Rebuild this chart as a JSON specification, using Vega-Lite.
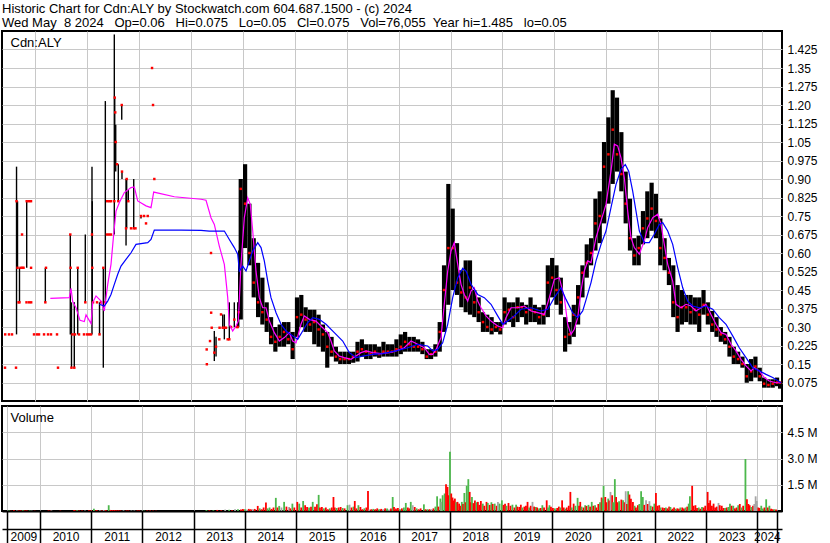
{
"$schema":"https://vega.github.io/schema/vega-lite/v6.json",
"padding":{"left":1,"top":3,"right":0,"bottom":0},
"background":"white",
"spacing":3,
"resolve":{"scale":{"color":"independent"}},
"title":{"text":["Historic Chart for Cdn:ALY by Stockwatch.com 604.687.1500 - (c) 2024","\u00a0Wed May\u00a0\u00a08 2024\u00a0\u00a0\u00a0Op=0.06\u00a0\u00a0\u00a0Hi=0.075\u00a0\u00a0\u00a0Lo=0.05\u00a0\u00a0\u00a0Cl=0.075\u00a0\u00a0\u00a0Vol=76,055\u00a0\u00a0Year hi=1.485\u00a0\u00a0\u00a0lo=0.05"],"anchor":"start","font":"Liberation Sans","fontSize":13,"fontWeight":"normal","color":"black","lineHeight":14,"offset":0,"dx":1},
"datasets":{
"early":[
{"t":2009.416,"lo":0.135,"hi":0.135,"cl":0.135},{"t":2009.42,"lo":0.27,"hi":0.27,"cl":0.27},{"t":2009.493,"lo":0.27,"hi":0.27,"cl":0.27},{"t":2009.551,"lo":0.27,"hi":0.27,"cl":0.27},{"t":2009.628,"lo":0.135,"hi":0.135,"cl":0.135},
{"t":2009.638,"lo":0.27,"hi":0.95,"cl":0.81},{"t":2009.657,"lo":0.54,"hi":0.81,"cl":0.54},{"t":2009.676,"lo":0.4,"hi":0.4,"cl":0.4},{"t":2009.695,"lo":0.4,"hi":0.54,"cl":0.4},{"t":2009.715,"lo":0.54,"hi":0.54,"cl":0.54},
{"t":2009.744,"lo":0.675,"hi":0.675,"cl":0.675},{"t":2009.75,"lo":0.54,"hi":0.54,"cl":0.54},{"t":2009.773,"lo":0.54,"hi":0.54,"cl":0.54},{"t":2009.834,"lo":0.54,"hi":0.81,"cl":0.81},{"t":2009.83,"lo":0.4,"hi":0.4,"cl":0.4},
{"t":2009.879,"lo":0.81,"hi":0.81,"cl":0.81},{"t":2009.88,"lo":0.4,"hi":0.4,"cl":0.4},{"t":2009.917,"lo":0.81,"hi":0.81,"cl":0.81},{"t":2009.918,"lo":0.54,"hi":0.54,"cl":0.54},{"t":2009.92,"lo":0.4,"hi":0.4,"cl":0.4},
{"t":2009.975,"lo":0.27,"hi":0.27,"cl":0.27},{"t":2010.033,"lo":0.27,"hi":0.27,"cl":0.27},{"t":2010.071,"lo":0.27,"hi":0.27,"cl":0.27},{"t":2010.168,"lo":0.27,"hi":0.27,"cl":0.27},{"t":2010.193,"lo":0.4,"hi":0.54,"cl":0.4},
{"t":2010.206,"lo":0.54,"hi":0.54,"cl":0.54},{"t":2010.245,"lo":0.27,"hi":0.27,"cl":0.27},{"t":2010.302,"lo":0.27,"hi":0.27,"cl":0.27},{"t":2010.418,"lo":0.27,"hi":0.27,"cl":0.27},{"t":2010.437,"lo":0.135,"hi":0.135,"cl":0.135},
{"t":2010.674,"lo":0.27,"hi":0.675,"cl":0.675},{"t":2010.68,"lo":0.54,"hi":0.54,"cl":0.54},{"t":2010.697,"lo":0.135,"hi":0.4,"cl":0.135},{"t":2010.717,"lo":0.27,"hi":0.27,"cl":0.27},{"t":2010.751,"lo":0.135,"hi":0.4,"cl":0.135},
{"t":2010.765,"lo":0.27,"hi":0.27,"cl":0.27},{"t":2010.817,"lo":0.27,"hi":0.54,"cl":0.54},{"t":2010.842,"lo":0.27,"hi":0.27,"cl":0.27},{"t":2010.938,"lo":0.27,"hi":0.27,"cl":0.27},{"t":2010.963,"lo":0.4,"hi":0.675,"cl":0.4},
{"t":2010.996,"lo":0.27,"hi":0.27,"cl":0.27},{"t":2011.035,"lo":0.27,"hi":0.27,"cl":0.27},{"t":2011.073,"lo":0.27,"hi":0.27,"cl":0.27},{"t":2011.092,"lo":0.27,"hi":0.95,"cl":0.675},{"t":2011.098,"lo":0.4,"hi":0.81,"cl":0.54},
{"t":2011.112,"lo":0.4,"hi":0.4,"cl":0.4},{"t":2011.189,"lo":0.4,"hi":0.4,"cl":0.4},{"t":2011.237,"lo":0.27,"hi":0.4,"cl":0.27},{"t":2011.266,"lo":0.4,"hi":0.4,"cl":0.4},{"t":2011.31,"lo":0.135,"hi":0.54,"cl":0.54},
{"t":2011.349,"lo":0.4,"hi":1.216,"cl":0.4},{"t":2011.381,"lo":0.675,"hi":0.675,"cl":0.675},{"t":2011.385,"lo":0.81,"hi":0.81,"cl":0.81},{"t":2011.42,"lo":0.675,"hi":0.675,"cl":0.675},{"t":2011.425,"lo":0.81,"hi":0.81,"cl":0.81},
{"t":2011.458,"lo":0.675,"hi":0.675,"cl":0.675},{"t":2011.46,"lo":0.81,"hi":0.81,"cl":0.81},{"t":2011.522,"lo":0.675,"hi":1.486,"cl":0.81},{"t":2011.53,"lo":1.03,"hi":1.23,"cl":1.23},{"t":2011.54,"lo":1.17,"hi":1.17,"cl":1.17},
{"t":2011.549,"lo":0.93,"hi":1.12,"cl":1.05},{"t":2011.574,"lo":0.96,"hi":0.96,"cl":0.96},{"t":2011.599,"lo":0.81,"hi":0.96,"cl":0.81},{"t":2011.665,"lo":1.14,"hi":1.2,"cl":1.2},{"t":2011.67,"lo":0.9,"hi":0.93,"cl":0.93},
{"t":2011.748,"lo":0.63,"hi":0.9,"cl":0.7},{"t":2011.76,"lo":0.7,"hi":0.9,"cl":0.9},{"t":2011.792,"lo":0.81,"hi":0.855,"cl":0.81},{"t":2011.844,"lo":0.7,"hi":0.7,"cl":0.7},{"t":2011.896,"lo":0.7,"hi":0.9,"cl":0.7},
{"t":2011.93,"lo":0.7,"hi":0.7,"cl":0.7},{"t":2012.036,"lo":0.74,"hi":0.75,"cl":0.75},{"t":2012.095,"lo":0.75,"hi":0.75,"cl":0.75},{"t":2012.133,"lo":0.72,"hi":0.72,"cl":0.72},{"t":2012.166,"lo":0.75,"hi":0.75,"cl":0.75},
{"t":2012.249,"lo":1.35,"hi":1.35,"cl":1.35},{"t":2012.268,"lo":1.2,"hi":1.2,"cl":1.2},{"t":2012.293,"lo":0.9,"hi":0.9,"cl":0.9},
{"t":2013.302,"lo":0.209,"hi":0.209,"cl":0.209},{"t":2013.305,"lo":0.149,"hi":0.149,"cl":0.149},{"t":2013.366,"lo":0.243,"hi":0.243,"cl":0.243},{"t":2013.385,"lo":0.6,"hi":0.6,"cl":0.6},{"t":2013.388,"lo":0.358,"hi":0.358,"cl":0.358},
{"t":2013.399,"lo":0.297,"hi":0.297,"cl":0.297},{"t":2013.449,"lo":0.162,"hi":0.284,"cl":0.196},{"t":2013.482,"lo":0.18,"hi":0.26,"cl":0.22},{"t":2013.545,"lo":0.25,"hi":0.25,"cl":0.25},{"t":2013.55,"lo":0.297,"hi":0.297,"cl":0.297},
{"t":2013.578,"lo":0.351,"hi":0.351,"cl":0.351},{"t":2013.611,"lo":0.297,"hi":0.351,"cl":0.297},{"t":2013.642,"lo":0.25,"hi":0.351,"cl":0.297},{"t":2013.674,"lo":0.297,"hi":0.297,"cl":0.297},{"t":2013.707,"lo":0.25,"hi":0.25,"cl":0.25},
{"t":2013.738,"lo":0.25,"hi":0.4,"cl":0.25},{"t":2013.771,"lo":0.3,"hi":0.3,"cl":0.3},{"t":2013.834,"lo":0.3,"hi":0.4,"cl":0.33},{"t":2013.881,"lo":0.3,"hi":0.3,"cl":0.3},{"t":2013.9,"lo":0.3,"hi":0.4,"cl":0.3},
{"t":2013.919,"lo":0.3,"hi":0.61,"cl":0.36}
],
"monthly":[
{"t":2013.958,"lo":0.33,"hi":0.9,"cl":0.86},
{"t":2014.042,"lo":0.62,"hi":0.96,"cl":0.8},{"t":2014.125,"lo":0.55,"hi":0.8,"cl":0.6},{"t":2014.208,"lo":0.42,"hi":0.66,"cl":0.48},{"t":2014.292,"lo":0.34,"hi":0.56,"cl":0.4},{"t":2014.375,"lo":0.31,"hi":0.5,"cl":0.36},{"t":2014.458,"lo":0.28,"hi":0.4,"cl":0.33},{"t":2014.542,"lo":0.23,"hi":0.34,"cl":0.26},{"t":2014.625,"lo":0.2,"hi":0.3,"cl":0.24},{"t":2014.708,"lo":0.22,"hi":0.31,"cl":0.26},{"t":2014.792,"lo":0.22,"hi":0.32,"cl":0.28},{"t":2014.875,"lo":0.23,"hi":0.32,"cl":0.25},{"t":2014.958,"lo":0.17,"hi":0.28,"cl":0.21},
{"t":2015.042,"lo":0.26,"hi":0.42,"cl":0.34},{"t":2015.125,"lo":0.3,"hi":0.43,"cl":0.35},{"t":2015.208,"lo":0.28,"hi":0.38,"cl":0.33},{"t":2015.292,"lo":0.28,"hi":0.37,"cl":0.31},{"t":2015.375,"lo":0.23,"hi":0.37,"cl":0.32},{"t":2015.458,"lo":0.22,"hi":0.35,"cl":0.29},{"t":2015.542,"lo":0.2,"hi":0.31,"cl":0.27},{"t":2015.625,"lo":0.135,"hi":0.28,"cl":0.22},{"t":2015.708,"lo":0.18,"hi":0.26,"cl":0.2},{"t":2015.792,"lo":0.16,"hi":0.22,"cl":0.18},{"t":2015.875,"lo":0.15,"hi":0.2,"cl":0.17},{"t":2015.958,"lo":0.15,"hi":0.2,"cl":0.17},
{"t":2016.042,"lo":0.15,"hi":0.2,"cl":0.17},{"t":2016.125,"lo":0.155,"hi":0.2,"cl":0.18},{"t":2016.208,"lo":0.16,"hi":0.24,"cl":0.2},{"t":2016.292,"lo":0.18,"hi":0.25,"cl":0.21},{"t":2016.375,"lo":0.17,"hi":0.23,"cl":0.2},{"t":2016.458,"lo":0.17,"hi":0.23,"cl":0.19},{"t":2016.542,"lo":0.18,"hi":0.23,"cl":0.2},{"t":2016.625,"lo":0.175,"hi":0.22,"cl":0.19},{"t":2016.708,"lo":0.18,"hi":0.24,"cl":0.2},{"t":2016.792,"lo":0.18,"hi":0.23,"cl":0.2},{"t":2016.875,"lo":0.18,"hi":0.23,"cl":0.2},{"t":2016.958,"lo":0.18,"hi":0.25,"cl":0.21},
{"t":2017.042,"lo":0.19,"hi":0.27,"cl":0.22},{"t":2017.125,"lo":0.2,"hi":0.28,"cl":0.24},{"t":2017.208,"lo":0.2,"hi":0.26,"cl":0.23},{"t":2017.292,"lo":0.2,"hi":0.26,"cl":0.22},{"t":2017.375,"lo":0.2,"hi":0.25,"cl":0.22},{"t":2017.458,"lo":0.19,"hi":0.24,"cl":0.21},{"t":2017.542,"lo":0.17,"hi":0.21,"cl":0.18},{"t":2017.625,"lo":0.17,"hi":0.21,"cl":0.19},{"t":2017.708,"lo":0.18,"hi":0.23,"cl":0.2},{"t":2017.792,"lo":0.2,"hi":0.32,"cl":0.28},{"t":2017.875,"lo":0.28,"hi":0.55,"cl":0.45},{"t":2017.958,"lo":0.39,"hi":0.88,"cl":0.62},
{"t":2018.042,"lo":0.45,"hi":0.78,"cl":0.62},{"t":2018.125,"lo":0.43,"hi":0.64,"cl":0.48},{"t":2018.208,"lo":0.38,"hi":0.53,"cl":0.44},{"t":2018.292,"lo":0.36,"hi":0.57,"cl":0.42},{"t":2018.375,"lo":0.35,"hi":0.57,"cl":0.46},{"t":2018.458,"lo":0.34,"hi":0.45,"cl":0.4},{"t":2018.542,"lo":0.32,"hi":0.42,"cl":0.36},{"t":2018.625,"lo":0.28,"hi":0.36,"cl":0.32},{"t":2018.708,"lo":0.28,"hi":0.35,"cl":0.3},{"t":2018.792,"lo":0.27,"hi":0.34,"cl":0.29},{"t":2018.875,"lo":0.28,"hi":0.32,"cl":0.3},{"t":2018.958,"lo":0.27,"hi":0.32,"cl":0.29},
{"t":2019.042,"lo":0.31,"hi":0.42,"cl":0.36},{"t":2019.125,"lo":0.32,"hi":0.4,"cl":0.37},{"t":2019.208,"lo":0.3,"hi":0.4,"cl":0.34},{"t":2019.292,"lo":0.32,"hi":0.42,"cl":0.38},{"t":2019.375,"lo":0.34,"hi":0.4,"cl":0.38},{"t":2019.458,"lo":0.31,"hi":0.39,"cl":0.36},{"t":2019.542,"lo":0.32,"hi":0.42,"cl":0.37},{"t":2019.625,"lo":0.32,"hi":0.39,"cl":0.36},{"t":2019.708,"lo":0.31,"hi":0.38,"cl":0.34},{"t":2019.792,"lo":0.31,"hi":0.39,"cl":0.35},{"t":2019.875,"lo":0.34,"hi":0.55,"cl":0.48},{"t":2019.958,"lo":0.42,"hi":0.58,"cl":0.5},
{"t":2020.042,"lo":0.39,"hi":0.55,"cl":0.45},{"t":2020.125,"lo":0.35,"hi":0.5,"cl":0.4},{"t":2020.208,"lo":0.2,"hi":0.34,"cl":0.26},{"t":2020.292,"lo":0.23,"hi":0.32,"cl":0.27},{"t":2020.375,"lo":0.26,"hi":0.39,"cl":0.35},{"t":2020.458,"lo":0.31,"hi":0.47,"cl":0.42},{"t":2020.542,"lo":0.42,"hi":0.55,"cl":0.52},{"t":2020.625,"lo":0.5,"hi":0.635,"cl":0.56},{"t":2020.708,"lo":0.55,"hi":0.66,"cl":0.6},{"t":2020.792,"lo":0.61,"hi":0.82,"cl":0.72},{"t":2020.875,"lo":0.64,"hi":0.85,"cl":0.75},{"t":2020.958,"lo":0.72,"hi":1.05,"cl":0.95},
{"t":2021.042,"lo":0.8,"hi":1.15,"cl":1.0},{"t":2021.125,"lo":0.88,"hi":1.26,"cl":1.1},{"t":2021.208,"lo":0.93,"hi":1.23,"cl":1.0},{"t":2021.292,"lo":0.85,"hi":1.09,"cl":0.92},{"t":2021.375,"lo":0.72,"hi":0.93,"cl":0.8},{"t":2021.458,"lo":0.61,"hi":0.82,"cl":0.66},{"t":2021.542,"lo":0.55,"hi":0.66,"cl":0.59},{"t":2021.625,"lo":0.55,"hi":0.67,"cl":0.62},{"t":2021.708,"lo":0.635,"hi":0.77,"cl":0.7},{"t":2021.792,"lo":0.66,"hi":0.85,"cl":0.74},{"t":2021.875,"lo":0.69,"hi":0.885,"cl":0.78},{"t":2021.958,"lo":0.66,"hi":0.84,"cl":0.73},
{"t":2022.042,"lo":0.55,"hi":0.74,"cl":0.62},{"t":2022.125,"lo":0.53,"hi":0.66,"cl":0.58},{"t":2022.208,"lo":0.47,"hi":0.58,"cl":0.52},{"t":2022.292,"lo":0.34,"hi":0.55,"cl":0.4},{"t":2022.375,"lo":0.28,"hi":0.47,"cl":0.34},{"t":2022.458,"lo":0.31,"hi":0.45,"cl":0.38},{"t":2022.542,"lo":0.32,"hi":0.43,"cl":0.38},{"t":2022.625,"lo":0.31,"hi":0.43,"cl":0.36},{"t":2022.708,"lo":0.31,"hi":0.42,"cl":0.37},{"t":2022.792,"lo":0.28,"hi":0.42,"cl":0.35},{"t":2022.875,"lo":0.35,"hi":0.45,"cl":0.39},{"t":2022.958,"lo":0.31,"hi":0.4,"cl":0.35},
{"t":2023.042,"lo":0.28,"hi":0.365,"cl":0.31},{"t":2023.125,"lo":0.26,"hi":0.34,"cl":0.29},{"t":2023.208,"lo":0.24,"hi":0.3,"cl":0.27},{"t":2023.292,"lo":0.23,"hi":0.28,"cl":0.25},{"t":2023.375,"lo":0.18,"hi":0.26,"cl":0.22},{"t":2023.458,"lo":0.15,"hi":0.22,"cl":0.18},{"t":2023.542,"lo":0.15,"hi":0.2,"cl":0.17},{"t":2023.625,"lo":0.135,"hi":0.18,"cl":0.15},{"t":2023.708,"lo":0.074,"hi":0.15,"cl":0.1},{"t":2023.792,"lo":0.08,"hi":0.17,"cl":0.12},{"t":2023.875,"lo":0.095,"hi":0.18,"cl":0.14},{"t":2023.958,"lo":0.08,"hi":0.135,"cl":0.1},
{"t":2024.042,"lo":0.054,"hi":0.095,"cl":0.07},{"t":2024.125,"lo":0.054,"hi":0.088,"cl":0.065},{"t":2024.208,"lo":0.054,"hi":0.088,"cl":0.07},{"t":2024.292,"lo":0.06,"hi":0.095,"cl":0.075},{"t":2024.35,"lo":0.05,"hi":0.075,"cl":0.075}
],
"ma":[
{"t":2010.289,"v":0.416,"s":"short"},{"t":2010.655,"v":0.419,"s":"short"},{"t":2010.688,"v":0.457,"s":"short"},{"t":2010.72,"v":0.403,"s":"short"},{"t":2010.784,"v":0.378,"s":"short"},{"t":2010.861,"v":0.327,"s":"short"},{"t":2010.944,"v":0.322,"s":"short"},{"t":2010.977,"v":0.349,"s":"short"},{"t":2011.073,"v":0.314,"s":"short"},{"t":2011.106,"v":0.399,"s":"short"},{"t":2011.169,"v":0.426,"s":"short"},{"t":2011.266,"v":0.405,"s":"short"},{"t":2011.329,"v":0.365,"s":"short"},{"t":2011.395,"v":0.473,"s":"short"},{"t":2011.458,"v":0.554,"s":"short"},{"t":2011.51,"v":0.676,"s":"short"},{"t":2011.555,"v":0.77,"s":"short"},{"t":2011.618,"v":0.804,"s":"short"},{"t":2011.715,"v":0.845,"s":"short"},{"t":2011.844,"v":0.865,"s":"short"},{"t":2011.907,"v":0.868,"s":"short"},{"t":2011.973,"v":0.811,"s":"short"},{"t":2012.133,"v":0.791,"s":"short"},{"t":2012.229,"v":0.784,"s":"short"},{"t":2012.281,"v":0.847,"s":"short"},{"t":2012.678,"v":0.828,"s":"short"},{"t":2013.193,"v":0.818,"s":"short"},{"t":2013.289,"v":0.814,"s":"short"},{"t":2013.385,"v":0.743,"s":"short"},{"t":2013.449,"v":0.716,"s":"short"},{"t":2013.545,"v":0.628,"s":"short"},{"t":2013.642,"v":0.554,"s":"short"},{"t":2013.707,"v":0.419,"s":"short"},{"t":2013.738,"v":0.311,"s":"short"},{"t":2013.803,"v":0.284,"s":"short"},{"t":2013.867,"v":0.304,"s":"short"},{"t":2013.911,"v":0.324,"s":"short"},{"t":2013.963,"v":0.554,"s":"short"},{"t":2014.027,"v":0.743,"s":"short"},{"t":2014.092,"v":0.824,"s":"short"},{"t":2014.142,"v":0.797,"s":"short"},{"t":2014.189,"v":0.689,"s":"short"},{"t":2014.252,"v":0.527,"s":"short"},{"t":2014.316,"v":0.419,"s":"short"},{"t":2014.381,"v":0.378,"s":"short"},{"t":2014.445,"v":0.378,"s":"short"},{"t":2014.509,"v":0.324,"s":"short"},{"t":2014.605,"v":0.277,"s":"short"},{"t":2014.701,"v":0.243,"s":"short"},{"t":2014.798,"v":0.257,"s":"short"},{"t":2014.894,"v":0.277,"s":"short"},{"t":2014.959,"v":0.243,"s":"short"},{"t":2015.023,"v":0.236,"s":"short"},{"t":2015.119,"v":0.311,"s":"short"},{"t":2015.183,"v":0.345,"s":"short"},{"t":2015.279,"v":0.331,"s":"short"},{"t":2015.408,"v":0.324,"s":"short"},{"t":2015.537,"v":0.297,"s":"short"},{"t":2015.634,"v":0.277,"s":"short"},{"t":2015.697,"v":0.243,"s":"short"},{"t":2015.761,"v":0.203,"s":"short"},{"t":2015.857,"v":0.182,"s":"short"},{"t":2015.954,"v":0.176,"s":"short"},{"t":2016.083,"v":0.169,"s":"short"},{"t":2016.179,"v":0.182,"s":"short"},{"t":2016.275,"v":0.196,"s":"short"},{"t":2016.372,"v":0.203,"s":"short"},{"t":2016.501,"v":0.196,"s":"short"},{"t":2016.661,"v":0.192,"s":"short"},{"t":2016.821,"v":0.196,"s":"short"},{"t":2016.95,"v":0.203,"s":"short"},{"t":2017.11,"v":0.216,"s":"short"},{"t":2017.239,"v":0.243,"s":"short"},{"t":2017.368,"v":0.23,"s":"short"},{"t":2017.495,"v":0.216,"s":"short"},{"t":2017.591,"v":0.189,"s":"short"},{"t":2017.657,"v":0.189,"s":"short"},{"t":2017.721,"v":0.209,"s":"short"},{"t":2017.817,"v":0.257,"s":"short"},{"t":2017.88,"v":0.392,"s":"short"},{"t":2017.946,"v":0.527,"s":"short"},{"t":2018.01,"v":0.608,"s":"short"},{"t":2018.073,"v":0.642,"s":"short"},{"t":2018.139,"v":0.554,"s":"short"},{"t":2018.202,"v":0.473,"s":"short"},{"t":2018.266,"v":0.432,"s":"short"},{"t":2018.331,"v":0.405,"s":"short"},{"t":2018.395,"v":0.446,"s":"short"},{"t":2018.458,"v":0.459,"s":"short"},{"t":2018.524,"v":0.405,"s":"short"},{"t":2018.588,"v":0.378,"s":"short"},{"t":2018.684,"v":0.345,"s":"short"},{"t":2018.78,"v":0.324,"s":"short"},{"t":2018.909,"v":0.304,"s":"short"},{"t":2019.006,"v":0.297,"s":"short"},{"t":2019.069,"v":0.338,"s":"short"},{"t":2019.166,"v":0.378,"s":"short"},{"t":2019.295,"v":0.378,"s":"short"},{"t":2019.422,"v":0.385,"s":"short"},{"t":2019.551,"v":0.365,"s":"short"},{"t":2019.68,"v":0.358,"s":"short"},{"t":2019.807,"v":0.351,"s":"short"},{"t":2019.904,"v":0.419,"s":"short"},{"t":2020.0,"v":0.493,"s":"short"},{"t":2020.096,"v":0.5,"s":"short"},{"t":2020.193,"v":0.419,"s":"short"},{"t":2020.258,"v":0.311,"s":"short"},{"t":2020.322,"v":0.27,"s":"short"},{"t":2020.385,"v":0.291,"s":"short"},{"t":2020.451,"v":0.338,"s":"short"},{"t":2020.514,"v":0.446,"s":"short"},{"t":2020.578,"v":0.527,"s":"short"},{"t":2020.643,"v":0.568,"s":"short"},{"t":2020.707,"v":0.561,"s":"short"},{"t":2020.803,"v":0.662,"s":"short"},{"t":2020.9,"v":0.73,"s":"short"},{"t":2020.996,"v":0.797,"s":"short"},{"t":2021.092,"v":0.932,"s":"short"},{"t":2021.156,"v":1.041,"s":"short"},{"t":2021.221,"v":1.034,"s":"short"},{"t":2021.285,"v":0.986,"s":"short"},{"t":2021.349,"v":0.905,"s":"short"},{"t":2021.414,"v":0.77,"s":"short"},{"t":2021.478,"v":0.662,"s":"short"},{"t":2021.541,"v":0.622,"s":"short"},{"t":2021.638,"v":0.595,"s":"short"},{"t":2021.734,"v":0.649,"s":"short"},{"t":2021.799,"v":0.703,"s":"short"},{"t":2021.896,"v":0.743,"s":"short"},{"t":2021.992,"v":0.757,"s":"short"},{"t":2022.056,"v":0.716,"s":"short"},{"t":2022.119,"v":0.635,"s":"short"},{"t":2022.185,"v":0.554,"s":"short"},{"t":2022.281,"v":0.486,"s":"short"},{"t":2022.345,"v":0.392,"s":"short"},{"t":2022.441,"v":0.378,"s":"short"},{"t":2022.537,"v":0.392,"s":"short"},{"t":2022.634,"v":0.385,"s":"short"},{"t":2022.73,"v":0.365,"s":"short"},{"t":2022.826,"v":0.378,"s":"short"},{"t":2022.923,"v":0.392,"s":"short"},{"t":2023.019,"v":0.351,"s":"short"},{"t":2023.115,"v":0.311,"s":"short"},{"t":2023.212,"v":0.277,"s":"short"},{"t":2023.308,"v":0.27,"s":"short"},{"t":2023.405,"v":0.23,"s":"short"},{"t":2023.501,"v":0.203,"s":"short"},{"t":2023.597,"v":0.169,"s":"short"},{"t":2023.694,"v":0.142,"s":"short"},{"t":2023.79,"v":0.122,"s":"short"},{"t":2023.853,"v":0.135,"s":"short"},{"t":2023.95,"v":0.122,"s":"short"},{"t":2024.046,"v":0.095,"s":"short"},{"t":2024.142,"v":0.081,"s":"short"},{"t":2024.272,"v":0.074,"s":"short"},{"t":2024.368,"v":0.074,"s":"short"},
{"t":2011.233,"v":0.392,"s":"long"},{"t":2011.329,"v":0.385,"s":"long"},{"t":2011.395,"v":0.405,"s":"long"},{"t":2011.458,"v":0.432,"s":"long"},{"t":2011.522,"v":0.473,"s":"long"},{"t":2011.588,"v":0.514,"s":"long"},{"t":2011.651,"v":0.547,"s":"long"},{"t":2011.747,"v":0.574,"s":"long"},{"t":2011.844,"v":0.601,"s":"long"},{"t":2011.94,"v":0.635,"s":"long"},{"t":2012.166,"v":0.642,"s":"long"},{"t":2012.229,"v":0.655,"s":"long"},{"t":2012.293,"v":0.693,"s":"long"},{"t":2012.807,"v":0.693,"s":"long"},{"t":2013.193,"v":0.692,"s":"long"},{"t":2013.352,"v":0.689,"s":"long"},{"t":2013.642,"v":0.689,"s":"long"},{"t":2013.738,"v":0.655,"s":"long"},{"t":2013.834,"v":0.622,"s":"long"},{"t":2013.9,"v":0.595,"s":"long"},{"t":2013.931,"v":0.527,"s":"long"},{"t":2013.996,"v":0.547,"s":"long"},{"t":2014.06,"v":0.527,"s":"long"},{"t":2014.123,"v":0.568,"s":"long"},{"t":2014.189,"v":0.608,"s":"long"},{"t":2014.285,"v":0.642,"s":"long"},{"t":2014.349,"v":0.622,"s":"long"},{"t":2014.412,"v":0.568,"s":"long"},{"t":2014.478,"v":0.486,"s":"long"},{"t":2014.541,"v":0.419,"s":"long"},{"t":2014.638,"v":0.358,"s":"long"},{"t":2014.734,"v":0.311,"s":"long"},{"t":2014.83,"v":0.284,"s":"long"},{"t":2014.959,"v":0.264,"s":"long"},{"t":2015.056,"v":0.25,"s":"long"},{"t":2015.152,"v":0.284,"s":"long"},{"t":2015.248,"v":0.318,"s":"long"},{"t":2015.345,"v":0.338,"s":"long"},{"t":2015.472,"v":0.331,"s":"long"},{"t":2015.601,"v":0.311,"s":"long"},{"t":2015.761,"v":0.277,"s":"long"},{"t":2015.923,"v":0.243,"s":"long"},{"t":2016.05,"v":0.196,"s":"long"},{"t":2016.179,"v":0.176,"s":"long"},{"t":2016.308,"v":0.182,"s":"long"},{"t":2016.501,"v":0.189,"s":"long"},{"t":2016.694,"v":0.192,"s":"long"},{"t":2016.95,"v":0.203,"s":"long"},{"t":2017.175,"v":0.216,"s":"long"},{"t":2017.368,"v":0.23,"s":"long"},{"t":2017.561,"v":0.223,"s":"long"},{"t":2017.657,"v":0.203,"s":"long"},{"t":2017.753,"v":0.209,"s":"long"},{"t":2017.849,"v":0.236,"s":"long"},{"t":2017.946,"v":0.311,"s":"long"},{"t":2018.042,"v":0.419,"s":"long"},{"t":2018.139,"v":0.5,"s":"long"},{"t":2018.235,"v":0.538,"s":"long"},{"t":2018.299,"v":0.527,"s":"long"},{"t":2018.395,"v":0.473,"s":"long"},{"t":2018.524,"v":0.432,"s":"long"},{"t":2018.651,"v":0.419,"s":"long"},{"t":2018.78,"v":0.392,"s":"long"},{"t":2018.909,"v":0.345,"s":"long"},{"t":2019.006,"v":0.311,"s":"long"},{"t":2019.102,"v":0.324,"s":"long"},{"t":2019.229,"v":0.345,"s":"long"},{"t":2019.358,"v":0.372,"s":"long"},{"t":2019.551,"v":0.378,"s":"long"},{"t":2019.744,"v":0.365,"s":"long"},{"t":2019.873,"v":0.372,"s":"long"},{"t":2020.0,"v":0.419,"s":"long"},{"t":2020.129,"v":0.459,"s":"long"},{"t":2020.225,"v":0.412,"s":"long"},{"t":2020.354,"v":0.358,"s":"long"},{"t":2020.451,"v":0.338,"s":"long"},{"t":2020.547,"v":0.365,"s":"long"},{"t":2020.611,"v":0.41,"s":"long"},{"t":2020.707,"v":0.48,"s":"long"},{"t":2020.803,"v":0.568,"s":"long"},{"t":2020.9,"v":0.635,"s":"long"},{"t":2020.996,"v":0.689,"s":"long"},{"t":2021.092,"v":0.784,"s":"long"},{"t":2021.189,"v":0.878,"s":"long"},{"t":2021.285,"v":0.939,"s":"long"},{"t":2021.368,"v":0.959,"s":"long"},{"t":2021.433,"v":0.932,"s":"long"},{"t":2021.51,"v":0.851,"s":"long"},{"t":2021.574,"v":0.77,"s":"long"},{"t":2021.638,"v":0.689,"s":"long"},{"t":2021.734,"v":0.642,"s":"long"},{"t":2021.83,"v":0.642,"s":"long"},{"t":2021.927,"v":0.676,"s":"long"},{"t":2022.023,"v":0.716,"s":"long"},{"t":2022.088,"v":0.723,"s":"long"},{"t":2022.185,"v":0.689,"s":"long"},{"t":2022.281,"v":0.635,"s":"long"},{"t":2022.377,"v":0.541,"s":"long"},{"t":2022.474,"v":0.459,"s":"long"},{"t":2022.57,"v":0.405,"s":"long"},{"t":2022.667,"v":0.385,"s":"long"},{"t":2022.794,"v":0.378,"s":"long"},{"t":2022.923,"v":0.385,"s":"long"},{"t":2023.052,"v":0.372,"s":"long"},{"t":2023.179,"v":0.338,"s":"long"},{"t":2023.308,"v":0.311,"s":"long"},{"t":2023.437,"v":0.264,"s":"long"},{"t":2023.564,"v":0.216,"s":"long"},{"t":2023.694,"v":0.176,"s":"long"},{"t":2023.822,"v":0.135,"s":"long"},{"t":2023.95,"v":0.122,"s":"long"},{"t":2024.079,"v":0.108,"s":"long"},{"t":2024.208,"v":0.095,"s":"long"},{"t":2024.368,"v":0.074,"s":"long"}
],
"vol":[
{"t":2009.397,"v":0.03,"c":"u"},{"t":2009.435,"v":0.02,"c":"d"},{"t":2009.493,"v":0.04,"c":"d"},{"t":2009.551,"v":0.03,"c":"f"},{"t":2009.589,"v":0.03,"c":"d"},{"t":2009.628,"v":0.03,"c":"d"},{"t":2009.667,"v":0.04,"c":"u"},{"t":2009.705,"v":0.03,"c":"d"},{"t":2009.744,"v":0.03,"c":"d"},{"t":2009.801,"v":0.03,"c":"u"},{"t":2009.84,"v":0.02,"c":"f"},{"t":2009.898,"v":0.02,"c":"d"},{"t":2010.168,"v":0.03,"c":"d"},{"t":2010.206,"v":0.02,"c":"d"},{"t":2010.225,"v":0.03,"c":"f"},{"t":2010.399,"v":0.02,"c":"d"},{"t":2010.668,"v":0.05,"c":"d"},{"t":2010.697,"v":0.03,"c":"d"},{"t":2010.726,"v":0.04,"c":"u"},{"t":2010.765,"v":0.03,"c":"d"},{"t":2010.823,"v":0.03,"c":"d"},{"t":2010.88,"v":0.03,"c":"f"},{"t":2010.958,"v":0.04,"c":"d"},{"t":2011.0,"v":0.03,"c":"d"},{"t":2011.054,"v":0.13,"c":"u"},{"t":2011.093,"v":0.03,"c":"d"},{"t":2011.112,"v":0.04,"c":"d"},{"t":2011.17,"v":0.04,"c":"f"},{"t":2011.208,"v":0.03,"c":"d"},{"t":2011.247,"v":0.05,"c":"f"},{"t":2011.285,"v":0.05,"c":"d"},{"t":2011.343,"v":0.33,"c":"u"},{"t":2011.381,"v":0.06,"c":"d"},{"t":2011.42,"v":0.05,"c":"d"},{"t":2011.459,"v":0.05,"c":"d"},{"t":2011.497,"v":0.04,"c":"d"},{"t":2011.536,"v":0.04,"c":"d"},{"t":2011.574,"v":0.03,"c":"d"},{"t":2011.632,"v":0.04,"c":"f"},{"t":2011.69,"v":0.03,"c":"d"},{"t":2011.728,"v":0.03,"c":"d"},{"t":2011.786,"v":0.03,"c":"f"},{"t":2011.844,"v":0.03,"c":"f"},{"t":2011.902,"v":0.03,"c":"d"},{"t":2011.94,"v":0.03,"c":"d"},{"t":2011.998,"v":0.02,"c":"f"},{"t":2012.036,"v":0.02,"c":"u"},{"t":2012.094,"v":0.03,"c":"d"},{"t":2012.152,"v":0.03,"c":"d"},{"t":2012.21,"v":0.02,"c":"d"},{"t":2012.268,"v":0.02,"c":"d"},
{"t":2013.25,"v":0.05,"c":"u"},{"t":2013.308,"v":0.04,"c":"d"},{"t":2013.385,"v":0.04,"c":"u"},{"t":2013.462,"v":0.06,"c":"d"},{"t":2013.539,"v":0.04,"c":"d"},{"t":2013.616,"v":0.08,"c":"f"},{"t":2013.693,"v":0.07,"c":"u"},{"t":2013.751,"v":0.05,"c":"d"},{"t":2013.809,"v":0.1,"c":"f"},{"t":2013.866,"v":0.1,"c":"u"},{"t":2013.924,"v":0.08,"c":"d"},{"t":2013.963,"v":0.12,"c":"d"},{"t":2014.001,"v":0.1,"c":"u"},{"t":2014.04,"v":0.08,"c":"f"},{"t":2014.078,"v":0.12,"c":"d"},{"t":2014.117,"v":0.1,"c":"d"},{"t":2014.156,"v":0.1,"c":"f"},{"t":2014.194,"v":0.12,"c":"d"},{"t":2014.252,"v":0.29,"c":"d"},{"t":2014.29,"v":0.15,"c":"u"},{"t":2014.329,"v":0.1,"c":"d"},{"t":2014.367,"v":0.2,"c":"d"},{"t":2014.412,"v":0.48,"c":"d"},{"t":2014.445,"v":0.15,"c":"u"},{"t":2014.483,"v":0.2,"c":"u"},{"t":2014.522,"v":0.12,"c":"d"},{"t":2014.56,"v":0.2,"c":"d"},{"t":2014.605,"v":0.75,"c":"u"},{"t":2014.638,"v":0.2,"c":"d"},{"t":2014.671,"v":0.29,"c":"u"},{"t":2014.715,"v":0.2,"c":"f"},{"t":2014.767,"v":0.52,"c":"u"},{"t":2014.812,"v":0.25,"c":"d"},{"t":2014.864,"v":0.23,"c":"f"},{"t":2014.889,"v":0.15,"c":"d"},{"t":2014.928,"v":0.42,"c":"u"},{"t":2014.966,"v":0.2,"c":"d"},{"t":2015.024,"v":0.52,"c":"d"},{"t":2015.062,"v":0.42,"c":"u"},{"t":2015.101,"v":0.2,"c":"d"},
{"t":2015.138,"v":0.57,"c":"u"},{"t":2015.177,"v":0.33,"c":"d"},{"t":2015.215,"v":0.23,"c":"d"},{"t":2015.254,"v":0.2,"c":"u"},{"t":2015.292,"v":0.25,"c":"d"},{"t":2015.325,"v":0.52,"c":"u"},{"t":2015.37,"v":0.25,"c":"d"},{"t":2015.408,"v":0.38,"c":"d"},{"t":2015.441,"v":0.92,"c":"u"},{"t":2015.466,"v":0.2,"c":"d"},{"t":2015.504,"v":0.23,"c":"d"},{"t":2015.543,"v":0.15,"c":"u"},{"t":2015.581,"v":0.2,"c":"d"},{"t":2015.62,"v":0.1,"c":"d"},{"t":2015.658,"v":0.15,"c":"u"},{"t":2015.697,"v":0.2,"c":"d"},{"t":2015.73,"v":0.8,"c":"d"},{"t":2015.755,"v":0.2,"c":"d"},{"t":2015.793,"v":0.17,"c":"u"},{"t":2015.832,"v":0.2,"c":"d"},{"t":2015.87,"v":0.23,"c":"d"},{"t":2015.909,"v":0.17,"c":"u"},{"t":2015.947,"v":0.15,"c":"d"},{"t":2016.005,"v":0.33,"c":"u"},{"t":2016.044,"v":0.36,"c":"f"},{"t":2016.083,"v":0.2,"c":"d"},{"t":2016.121,"v":0.25,"c":"u"},{"t":2016.146,"v":0.57,"c":"d"},{"t":2016.179,"v":0.15,"c":"d"},{"t":2016.217,"v":0.33,"c":"u"},{"t":2016.256,"v":0.23,"c":"d"},{"t":2016.294,"v":0.1,"c":"d"},{"t":2016.333,"v":0.15,"c":"u"},{"t":2016.372,"v":0.2,"c":"d"},{"t":2016.404,"v":1.15,"c":"d"},{"t":2016.429,"v":0.08,"c":"f"},{"t":2016.468,"v":0.1,"c":"d"},{"t":2016.506,"v":0.12,"c":"u"},{"t":2016.545,"v":0.1,"c":"d"},{"t":2016.584,"v":0.15,"c":"d"},{"t":2016.622,"v":0.1,"c":"u"},{"t":2016.661,"v":0.12,"c":"d"},{"t":2016.699,"v":0.1,"c":"f"},{"t":2016.738,"v":0.15,"c":"d"},{"t":2016.776,"v":0.15,"c":"u"},{"t":2016.815,"v":0.08,"c":"f"},{"t":2016.853,"v":0.15,"c":"d"},{"t":2016.886,"v":0.8,"c":"u"},{"t":2016.911,"v":0.23,"c":"d"},{"t":2016.95,"v":0.15,"c":"d"},{"t":2016.988,"v":0.17,"c":"d"},{"t":2017.027,"v":0.1,"c":"u"},
{"t":2017.065,"v":0.15,"c":"d"},{"t":2017.104,"v":0.2,"c":"u"},{"t":2017.142,"v":0.46,"c":"u"},{"t":2017.181,"v":0.2,"c":"d"},{"t":2017.21,"v":0.15,"c":"d"},{"t":2017.239,"v":0.52,"c":"u"},{"t":2017.277,"v":0.33,"c":"f"},{"t":2017.316,"v":0.23,"c":"d"},{"t":2017.354,"v":0.15,"c":"u"},{"t":2017.393,"v":0.1,"c":"d"},{"t":2017.431,"v":0.15,"c":"d"},{"t":2017.495,"v":0.38,"c":"u"},{"t":2017.528,"v":0.1,"c":"d"},{"t":2017.566,"v":0.1,"c":"u"},{"t":2017.605,"v":0.1,"c":"d"},{"t":2017.643,"v":0.1,"c":"f"},{"t":2017.682,"v":0.15,"c":"d"},{"t":2017.72,"v":0.25,"c":"u"},{"t":2017.753,"v":0.84,"c":"u"},{"t":2017.778,"v":0.25,"c":"d"},{"t":2017.817,"v":0.71,"c":"u"},{"t":2017.836,"v":0.52,"c":"f"},{"t":2017.861,"v":0.9,"c":"u"},{"t":2017.9,"v":1.0,"c":"u"},{"t":2017.927,"v":1.53,"c":"d"},{"t":2017.957,"v":1.38,"c":"d"},{"t":2017.98,"v":0.9,"c":"d"},{"t":2018.004,"v":3.39,"c":"u"},{"t":2018.029,"v":1.0,"c":"d"},{"t":2018.054,"v":0.77,"c":"d"},{"t":2018.077,"v":0.6,"c":"d"},{"t":2018.1,"v":0.71,"c":"d"},{"t":2018.126,"v":0.5,"c":"u"},{"t":2018.151,"v":0.52,"c":"d"},{"t":2018.183,"v":0.42,"c":"d"},{"t":2018.212,"v":0.3,"c":"d"},{"t":2018.235,"v":0.52,"c":"u"},{"t":2018.26,"v":0.4,"c":"d"},{"t":2018.285,"v":1.03,"c":"u"},{"t":2018.308,"v":0.5,"c":"d"},{"t":2018.331,"v":1.44,"c":"u"},{"t":2018.362,"v":1.82,"c":"u"},{"t":2018.389,"v":1.09,"c":"d"},{"t":2018.414,"v":0.5,"c":"d"},{"t":2018.433,"v":0.8,"c":"u"},{"t":2018.462,"v":0.45,"c":"d"},{"t":2018.491,"v":0.6,"c":"d"},{"t":2018.524,"v":0.5,"c":"u"},{"t":2018.549,"v":0.52,"c":"d"},{"t":2018.578,"v":0.35,"c":"d"},{"t":2018.607,"v":0.57,"c":"d"},{"t":2018.645,"v":0.42,"c":"u"},{"t":2018.674,"v":0.3,"c":"d"},{"t":2018.717,"v":0.52,"c":"d"},{"t":2018.742,"v":0.46,"c":"u"},{"t":2018.78,"v":0.35,"c":"d"},{"t":2018.813,"v":0.5,"c":"u"},{"t":2018.838,"v":0.4,"c":"d"},{"t":2018.877,"v":0.42,"c":"u"},{"t":2018.915,"v":0.3,"c":"d"},{"t":2018.94,"v":0.52,"c":"f"},
{"t":2018.973,"v":0.42,"c":"u"},{"t":2019.017,"v":0.61,"c":"u"},{"t":2019.05,"v":0.35,"c":"d"},{"t":2019.079,"v":0.42,"c":"d"},{"t":2019.108,"v":0.3,"c":"u"},{"t":2019.146,"v":0.46,"c":"d"},{"t":2019.185,"v":0.3,"c":"d"},{"t":2019.223,"v":0.36,"c":"u"},{"t":2019.262,"v":0.2,"c":"d"},{"t":2019.295,"v":0.36,"c":"u"},{"t":2019.32,"v":0.25,"c":"d"},{"t":2019.358,"v":0.23,"c":"d"},{"t":2019.387,"v":0.36,"c":"d"},{"t":2019.416,"v":0.2,"c":"u"},{"t":2019.455,"v":0.25,"c":"d"},{"t":2019.487,"v":0.3,"c":"d"},{"t":2019.518,"v":0.52,"c":"d"},{"t":2019.551,"v":0.2,"c":"u"},{"t":2019.58,"v":0.3,"c":"d"},{"t":2019.615,"v":0.52,"c":"f"},{"t":2019.647,"v":0.25,"c":"d"},{"t":2019.68,"v":0.23,"c":"u"},{"t":2019.705,"v":0.2,"c":"d"},{"t":2019.744,"v":0.15,"c":"u"},{"t":2019.776,"v":0.17,"c":"d"},{"t":2019.807,"v":0.33,"c":"u"},{"t":2019.84,"v":0.2,"c":"d"},{"t":2019.892,"v":0.61,"c":"d"},{"t":2019.917,"v":0.2,"c":"u"},{"t":2019.946,"v":0.33,"c":"u"},{"t":2019.975,"v":0.25,"c":"d"},{"t":2020.013,"v":0.17,"c":"d"},{"t":2020.052,"v":0.15,"c":"u"},{"t":2020.096,"v":0.17,"c":"d"},{"t":2020.129,"v":0.25,"c":"d"},{"t":2020.158,"v":0.2,"c":"u"},{"t":2020.193,"v":0.61,"c":"d"},{"t":2020.225,"v":0.2,"c":"d"},{"t":2020.258,"v":0.13,"c":"u"},{"t":2020.283,"v":0.2,"c":"d"},{"t":2020.322,"v":0.3,"c":"d"},{"t":2020.354,"v":1.09,"c":"d"},{"t":2020.379,"v":0.2,"c":"u"},{"t":2020.418,"v":0.42,"c":"d"},{"t":2020.451,"v":0.3,"c":"u"},{"t":2020.495,"v":0.75,"c":"u"},{"t":2020.524,"v":0.3,"c":"d"},{"t":2020.547,"v":0.52,"c":"d"},{"t":2020.572,"v":0.25,"c":"u"},{"t":2020.611,"v":0.2,"c":"d"},{"t":2020.643,"v":0.33,"c":"u"},{"t":2020.668,"v":0.29,"c":"d"},{"t":2020.707,"v":0.35,"c":"u"},{"t":2020.74,"v":0.25,"c":"d"},{"t":2020.771,"v":0.52,"c":"u"},{"t":2020.803,"v":0.3,"c":"d"},{"t":2020.836,"v":0.33,"c":"u"},{"t":2020.861,"v":0.2,"c":"d"},
{"t":2020.9,"v":0.4,"c":"d"},{"t":2020.933,"v":0.5,"c":"u"},{"t":2020.964,"v":0.77,"c":"d"},{"t":2020.983,"v":0.71,"c":"u"},{"t":2021.002,"v":1.44,"c":"u"},{"t":2021.035,"v":0.8,"c":"d"},{"t":2021.06,"v":0.5,"c":"d"},{"t":2021.093,"v":0.71,"c":"u"},{"t":2021.112,"v":0.6,"c":"d"},{"t":2021.137,"v":1.09,"c":"f"},{"t":2021.17,"v":0.9,"c":"d"},{"t":2021.189,"v":0.5,"c":"u"},{"t":2021.222,"v":1.82,"c":"u"},{"t":2021.247,"v":0.8,"c":"d"},{"t":2021.276,"v":0.5,"c":"d"},{"t":2021.305,"v":0.56,"c":"u"},{"t":2021.349,"v":0.65,"c":"d"},{"t":2021.382,"v":0.61,"c":"u"},{"t":2021.411,"v":0.5,"c":"d"},{"t":2021.434,"v":1.13,"c":"f"},{"t":2021.459,"v":0.4,"c":"d"},{"t":2021.482,"v":1.13,"c":"u"},{"t":2021.507,"v":0.94,"c":"d"},{"t":2021.536,"v":0.7,"c":"d"},{"t":2021.575,"v":0.52,"c":"d"},{"t":2021.608,"v":0.3,"c":"u"},{"t":2021.633,"v":0.2,"c":"d"},{"t":2021.671,"v":0.33,"c":"d"},{"t":2021.7,"v":0.4,"c":"u"},{"t":2021.735,"v":1.13,"c":"u"},{"t":2021.768,"v":0.8,"c":"u"},{"t":2021.797,"v":0.35,"c":"d"},{"t":2021.831,"v":0.61,"c":"f"},{"t":2021.864,"v":0.4,"c":"d"},{"t":2021.897,"v":0.56,"c":"f"},{"t":2021.922,"v":0.3,"c":"u"},{"t":2021.96,"v":0.25,"c":"d"},{"t":2021.993,"v":0.42,"c":"u"},{"t":2022.024,"v":1.03,"c":"d"},{"t":2022.056,"v":0.3,"c":"d"},{"t":2022.089,"v":0.33,"c":"d"},{"t":2022.114,"v":0.2,"c":"u"},{"t":2022.153,"v":0.2,"c":"d"},{"t":2022.186,"v":0.17,"c":"d"},{"t":2022.217,"v":0.2,"c":"u"},{"t":2022.249,"v":0.15,"c":"d"},{"t":2022.282,"v":0.25,"c":"d"},{"t":2022.307,"v":0.23,"c":"u"},{"t":2022.346,"v":0.13,"c":"d"},{"t":2022.378,"v":0.2,"c":"d"},{"t":2022.409,"v":0.13,"c":"u"},{"t":2022.442,"v":0.15,"c":"d"},{"t":2022.475,"v":0.13,"c":"d"},{"t":2022.5,"v":0.2,"c":"u"},{"t":2022.538,"v":0.2,"c":"d"},{"t":2022.571,"v":0.15,"c":"d"},{"t":2022.602,"v":0.2,"c":"u"},{"t":2022.635,"v":0.25,"c":"d"},{"t":2022.664,"v":0.42,"c":"u"},{"t":2022.687,"v":0.84,"c":"u"},{"t":2022.731,"v":1.44,"c":"d"},{"t":2022.76,"v":0.3,"c":"d"},{"t":2022.795,"v":0.33,"c":"d"},
{"t":2022.827,"v":0.17,"c":"d"},{"t":2022.86,"v":0.2,"c":"u"},{"t":2022.891,"v":0.13,"c":"d"},{"t":2022.923,"v":0.23,"c":"u"},{"t":2022.956,"v":0.2,"c":"d"},{"t":2022.987,"v":0.3,"c":"d"},{"t":2023.033,"v":1.09,"c":"d"},{"t":2023.058,"v":0.46,"c":"d"},{"t":2023.083,"v":0.61,"c":"d"},{"t":2023.116,"v":0.3,"c":"d"},{"t":2023.149,"v":0.42,"c":"d"},{"t":2023.18,"v":0.2,"c":"d"},{"t":2023.212,"v":0.25,"c":"d"},{"t":2023.245,"v":0.46,"c":"f"},{"t":2023.27,"v":0.33,"c":"d"},{"t":2023.309,"v":0.3,"c":"d"},{"t":2023.342,"v":0.17,"c":"d"},{"t":2023.372,"v":0.17,"c":"u"},{"t":2023.405,"v":0.2,"c":"d"},{"t":2023.438,"v":0.23,"c":"u"},{"t":2023.469,"v":0.42,"c":"u"},{"t":2023.501,"v":0.3,"c":"d"},{"t":2023.534,"v":0.3,"c":"u"},{"t":2023.565,"v":0.15,"c":"d"},{"t":2023.598,"v":0.2,"c":"d"},{"t":2023.63,"v":0.33,"c":"u"},{"t":2023.661,"v":0.4,"c":"d"},{"t":2023.694,"v":0.2,"c":"u"},{"t":2023.727,"v":0.3,"c":"d"},{"t":2023.771,"v":2.97,"c":"u"},{"t":2023.8,"v":0.67,"c":"d"},{"t":2023.829,"v":0.4,"c":"d"},{"t":2023.854,"v":0.33,"c":"d"},{"t":2023.887,"v":0.23,"c":"u"},{"t":2023.919,"v":0.3,"c":"d"},{"t":2023.944,"v":0.4,"c":"f"},{"t":2023.97,"v":0.84,"c":"f"},{"t":2023.993,"v":0.57,"c":"f"},{"t":2024.022,"v":0.2,"c":"d"},{"t":2024.047,"v":0.17,"c":"d"},{"t":2024.08,"v":0.3,"c":"u"},{"t":2024.112,"v":0.15,"c":"u"},{"t":2024.143,"v":0.2,"c":"d"},{"t":2024.176,"v":0.67,"c":"u"},{"t":2024.208,"v":0.2,"c":"d"},{"t":2024.239,"v":0.3,"c":"u"},{"t":2024.272,"v":0.13,"c":"d"},{"t":2024.305,"v":0.1,"c":"d"},{"t":2024.336,"v":0.1,"c":"u"},{"t":2024.368,"v":0.08,"c":"d"}
]
},
"vconcat":[
{
"width":780,"height":370,
"resolve":{"axis":{"x":"independent","y":"independent"}},
"layer":[
{"data":{"name":"early"},"mark":{"type":"rule","color":"black","strokeWidth":1.4},
"encoding":{
"x":{"field":"t","type":"quantitative","scale":{"domain":[2009.358,2024.387],"nice":false,"zero":false},"axis":{"orient":"bottom","values":[2010,2011,2012,2013,2014,2015,2016,2017,2018,2019,2020,2021,2022,2023,2024],"grid":true,"labels":false,"ticks":false,"domain":false,"title":null}},
"y":{"field":"lo","type":"quantitative","scale":{"domain":[0,1.5],"nice":false,"zero":false},"axis":{"orient":"right","values":[0.075,0.15,0.225,0.3,0.375,0.45,0.525,0.6,0.675,0.75,0.825,0.9,0.975,1.05,1.125,1.2,1.275,1.35,1.425],"grid":true,"ticks":false,"domain":false,"labelPadding":5,"labelExpr":"replace(format(datum.value,'.3f'),/0$/,'')","title":"Cdn:ALY","titleAngle":0,"titleAlign":"left","titleBaseline":"top","titleX":-772,"titleY":5,"titleFontSize":13}},
"y2":{"field":"hi"}}},
{"data":{"name":"monthly"},"mark":{"type":"rule","color":"black","strokeWidth":4.2},
"encoding":{"x":{"field":"t","type":"quantitative","axis":null},"y":{"field":"lo","type":"quantitative","axis":null},"y2":{"field":"hi"}}},
{"data":{"name":"early"},"mark":{"type":"square","color":"#ff0000","filled":true,"opacity":1,"size":6},
"encoding":{"x":{"field":"t","type":"quantitative","axis":null},"y":{"field":"cl","type":"quantitative","axis":null}}},
{"data":{"name":"monthly"},"mark":{"type":"square","color":"#ff0000","filled":true,"opacity":1,"size":6},
"encoding":{"x":{"field":"t","type":"quantitative","axis":null},"y":{"field":"cl","type":"quantitative","axis":null}}},
{"data":{"name":"ma"},"mark":{"type":"line","strokeWidth":1.2},
"encoding":{"x":{"field":"t","type":"quantitative","axis":null},"y":{"field":"v","type":"quantitative","axis":null},
"color":{"field":"s","type":"nominal","scale":{"domain":["short","long"],"range":["#ff00ff","#0000ff"]},"legend":null}}}
]
},
{
"width":780,"height":105,
"resolve":{"axis":{"x":"independent","y":"independent"}},
"layer":[
{"data":{"name":"vol"},"mark":{"type":"bar","width":1.8},
"encoding":{
"x":{"field":"t","type":"quantitative","scale":{"domain":[2009.358,2024.387],"nice":false,"zero":false},"axis":{"orient":"bottom","values":[2009.358,2010,2011,2012,2013,2014,2015,2016,2017,2018,2019,2020,2021,2022,2023,2024,2024.387],"grid":true,"labels":false,"ticks":true,"tickSize":34,"tickColor":"black","tickWidth":1.5,"domain":true,"domainColor":"black","domainWidth":2,"title":null}},
"y":{"field":"v","type":"quantitative","scale":{"domain":[0,6],"nice":false},"axis":{"orient":"right","values":[1.5,3,4.5],"grid":true,"ticks":false,"domain":false,"labelPadding":5,"labelExpr":"format(datum.value,'.1f')+' M'","title":"Volume","titleAngle":0,"titleAlign":"left","titleBaseline":"top","titleX":-772,"titleY":5,"titleFontSize":13}},
"color":{"field":"c","type":"nominal","scale":{"domain":["u","d","f"],"range":["#4cb84c","#ff0000","#a6a6a6"]},"legend":null}}},
{"data":{"name":"vol"},"mark":{"type":"point","opacity":0},
"encoding":{"x":{"field":"t","type":"quantitative","axis":{"orient":"bottom","values":[2009.679,2010.5,2011.5,2012.5,2013.5,2014.5,2015.5,2016.5,2017.5,2018.5,2019.5,2020.5,2021.5,2022.5,2023.5,2024.19],"labelExpr":"floor(datum.value)","grid":false,"ticks":false,"domain":true,"domainColor":"black","domainWidth":1.5,"offset":18,"labelPadding":2,"title":null}},"y":{"field":"v","type":"quantitative","axis":null}}},
{"data":{"name":"vol"},"mark":{"type":"point","opacity":0},
"encoding":{"x":{"field":"t","type":"quantitative","axis":{"orient":"bottom","grid":false,"ticks":false,"labels":false,"domain":true,"domainColor":"black","domainWidth":2,"offset":33,"title":null}},"y":{"field":"v","type":"quantitative","axis":null}}}
]
}
],
"config":{
"font":"Liberation Sans",
"view":{"stroke":"black","strokeWidth":2},
"axis":{"labelFont":"Liberation Sans","labelFontSize":12,"labelColor":"black","gridColor":"#c8c8c8","gridWidth":1,"gridOpacity":1,"titleFont":"Liberation Sans","titleFontWeight":"normal","titleColor":"black"}
}
}
